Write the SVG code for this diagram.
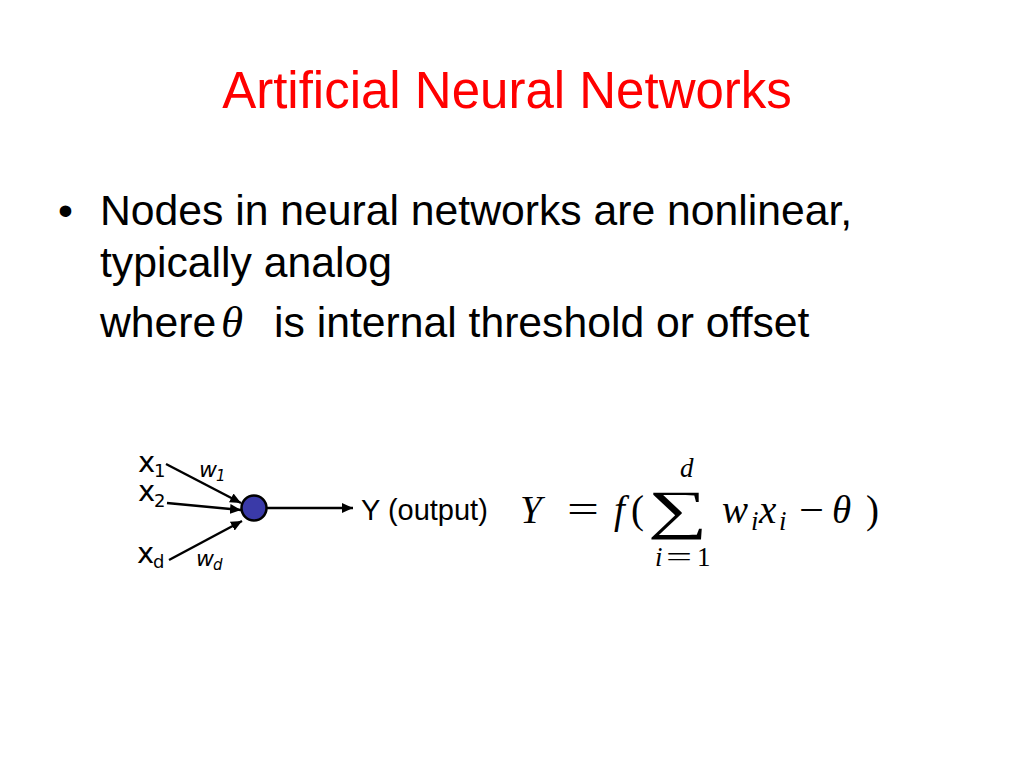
<svg xmlns="http://www.w3.org/2000/svg" width="1024" height="768" viewBox="0 0 1024 768">
<style>
.title{font-family:"Liberation Sans",Arial,sans-serif;font-size:51px;fill:#ff0000}
.body{font-family:"Liberation Sans",Arial,sans-serif;font-size:42.7px;fill:#000}
.lbl{font-family:"DejaVu Sans",Verdana,sans-serif;fill:#000}
.lbl2{font-family:"Liberation Sans",Arial,sans-serif;fill:#000}
.m{font-family:"Liberation Serif","DejaVu Serif",serif;fill:#000}
.it{font-style:italic}
.conn{stroke:#000;stroke-width:2.5;fill:none;marker-end:url(#ah)}
</style>
<defs>
<marker id="ah" markerUnits="userSpaceOnUse" markerWidth="12" markerHeight="10" refX="11" refY="5" orient="auto">
<path d="M0,0 L11,5 L0,10 z" fill="#000"/>
</marker>
</defs>
<rect width="1024" height="768" fill="#fff"/>
<g id="title"><text class="title" x="507" y="108" text-anchor="middle">Artificial Neural Networks</text></g>
<g id="bullets">
<text class="body" x="58" y="225">•</text>
<text class="body" x="100" y="225">Nodes in neural networks are nonlinear,</text>
<text class="body" x="100" y="277">typically analog</text>
<text class="body" x="100" y="337">where</text>
<text class="m it" x="221" y="337" font-size="45">θ</text>
<text class="body" x="274" y="337">is internal threshold or offset</text>
</g>
<g id="connectors">
<line class="conn" x1="166" y1="464" x2="241" y2="503"/>
<line class="conn" x1="167" y1="503" x2="241" y2="510"/>
<line class="conn" x1="169" y1="560" x2="242" y2="521"/>
<line class="conn" x1="267" y1="508" x2="353" y2="508"/>
</g>
<g id="x1"><text class="lbl" x="138" y="472" font-size="29">x</text><text class="lbl" x="154" y="477" font-size="18">1</text></g>
<g id="x2"><text class="lbl" x="138" y="501" font-size="29">x</text><text class="lbl" x="154" y="507" font-size="18">2</text></g>
<g id="xd"><text class="lbl" x="137" y="563" font-size="29">x</text><text class="lbl" x="153" y="568" font-size="18">d</text></g>
<g id="w1"><text class="lbl it" x="199" y="477" font-size="22">w</text><text class="lbl it" x="216" y="481" font-size="15">1</text></g>
<g id="wd"><text class="lbl it" x="196" y="566" font-size="22">w</text><text class="lbl it" x="213" y="570" font-size="15">d</text></g>
<g id="neuron"><circle cx="254" cy="508" r="12.5" fill="#3a3aa8" stroke="#000" stroke-width="2.5"/></g>
<g id="output"><text class="lbl2" x="361" y="520" font-size="29">Y (output)</text></g>
<g id="formula">
<text class="m it" x="520" y="523" font-size="39">Y</text>
<text class="m" x="567" y="523" font-size="39" textLength="32" lengthAdjust="spacingAndGlyphs">=</text>
<text class="m it" x="614" y="523" font-size="39">f</text>
<text class="m" x="631" y="523" font-size="39">(</text>
<text class="m" x="648" y="528" font-size="54" textLength="60" lengthAdjust="spacingAndGlyphs">∑</text>
<text class="m it" x="680" y="477" font-size="27">d</text>
<text class="m it" x="655" y="566" font-size="27">i</text>
<text class="m" x="666" y="566" font-size="27" textLength="26" lengthAdjust="spacingAndGlyphs">=</text>
<text class="m" x="697" y="566" font-size="27">1</text>
<text class="m it" x="722" y="523" font-size="39">w</text>
<text class="m it" x="751" y="530" font-size="27">i</text>
<text class="m it" x="759" y="523" font-size="39">x</text>
<text class="m it" x="779" y="530" font-size="27">i</text>
<text class="m" x="799" y="523" font-size="39" textLength="25" lengthAdjust="spacingAndGlyphs">−</text>
<text class="m it" x="832" y="523" font-size="39">θ</text>
<text class="m" x="866" y="523" font-size="39">)</text>
</g>
</svg>
